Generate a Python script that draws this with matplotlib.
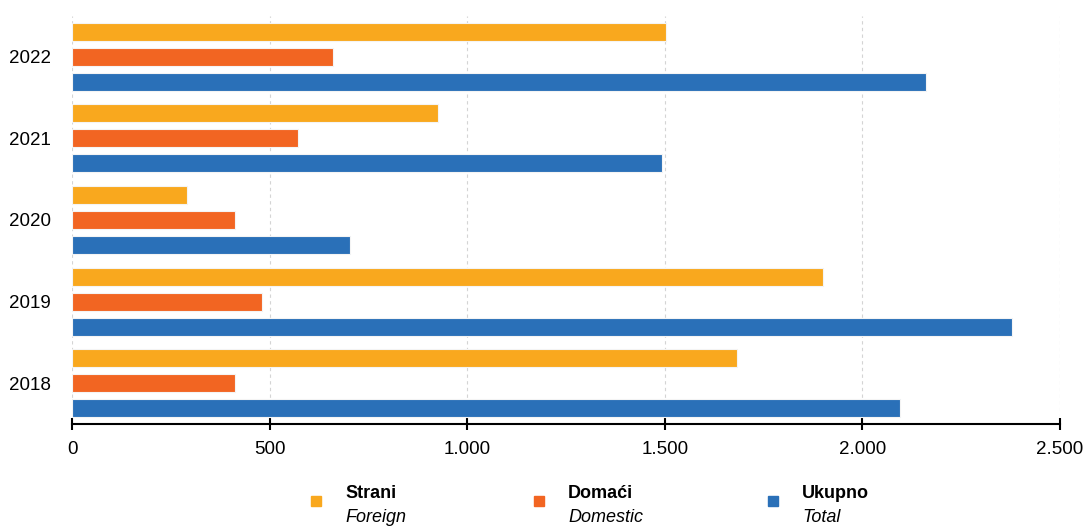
import numpy as np
import matplotlib
matplotlib.use("Agg")
import matplotlib.pyplot as plt
from matplotlib.patches import Rectangle
from matplotlib.ticker import FuncFormatter

plt.rcParams['font.family'] = ['Liberation Sans', 'DejaVu Sans']

years = ["2018", "2019", "2020", "2021", "2022"]
strani = [1683, 1900, 291, 926, 1503]
domaci = [412, 481, 412, 571, 660]
ukupno = [2095, 2379, 703, 1494, 2161]

series_hr = ["Strani", "Domaći", "Ukupno"]
series_en = ["Foreign", "Domestic", "Total"]
colors = ["#F9A81E", "#F26522", "#2A70B8"]

fig = plt.figure(figsize=(10.86, 5.28), dpi=100)
ax = fig.add_axes([72 / 1086, 1 - 424 / 528, 988 / 1086, 408 / 528])

y = np.arange(len(years))
step = 0.307
h = 0.22
for vals, off, c in zip([strani, domaci, ukupno], [step, 0, -step], colors):
    ax.barh(y + off, vals, height=h, color=c, edgecolor="#f4f4f4", linewidth=0.8, zorder=3)

ax.set_xlim(0, 2500)
ax.set_ylim(-0.5, 4.5)
ax.set_yticks(y)
ax.set_yticklabels(years, fontsize=13.5)
ax.set_xticks(np.arange(0, 2501, 500))
ax.xaxis.set_major_formatter(FuncFormatter(lambda v, p: f"{int(v):,}".replace(",", ".")))
ax.tick_params(axis="x", labelsize=13.5, direction="inout", length=8, width=1.5, pad=8)
ax.tick_params(axis="y", length=0, pad=15)
ax.grid(axis="x", color="#d4d4d4", linestyle=(0, (3, 3)), linewidth=0.8, zorder=0)
for s in ["top", "right", "left"]:
    ax.spines[s].set_visible(False)
ax.spines["bottom"].set_linewidth(1.5)

# legend
leg_x = [316, 539, 773]
for lx, hr, en, c in zip(leg_x, series_hr, series_en, colors):
    fig.add_artist(Rectangle(((lx - 5) / 1086, 1 - 506 / 528), 10 / 1086, 10 / 528,
                             transform=fig.transFigure, color=c))
    fig.text((lx + 29) / 1086, 1 - 494 / 528, hr, fontsize=13, fontweight="bold", va="center")
    fig.text((lx + 29) / 1086, 1 - 517 / 528, en, fontsize=13, style="italic", va="center")

fig.savefig("out.png", dpi=100)
